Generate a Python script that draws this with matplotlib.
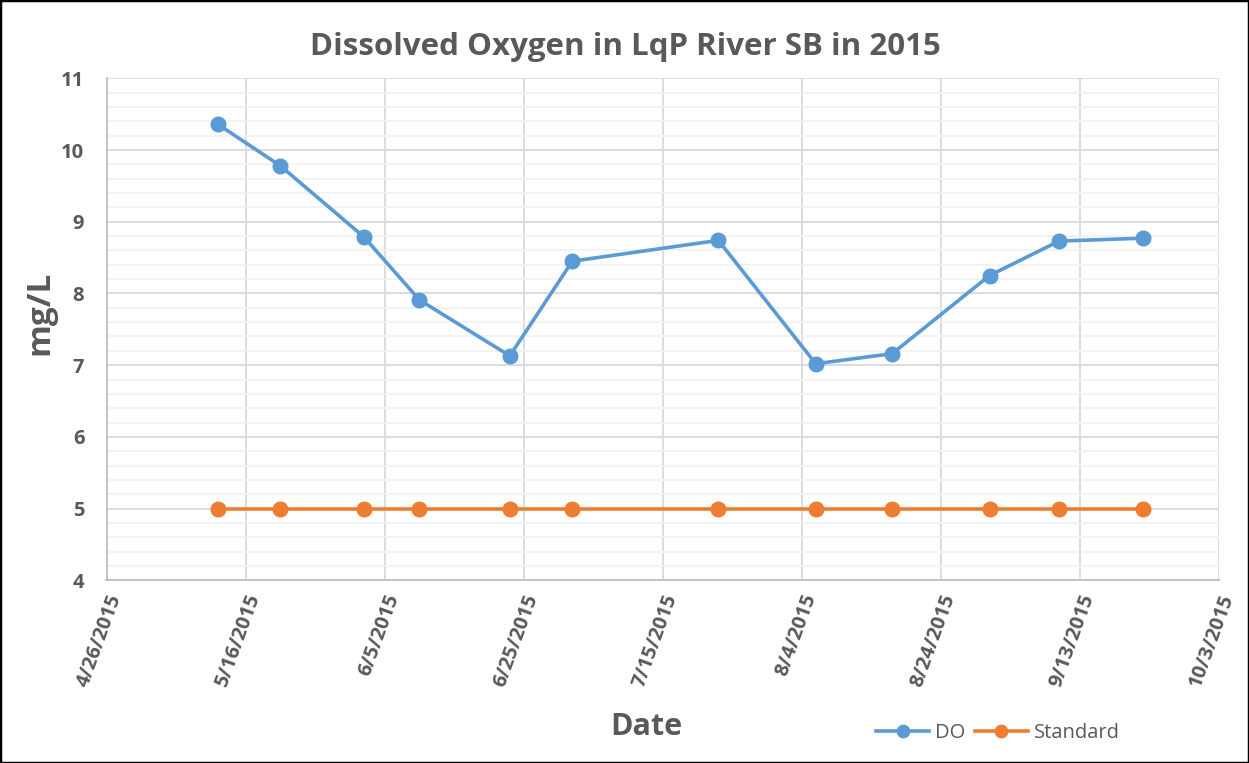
import matplotlib
matplotlib.use("Agg")
import matplotlib.pyplot as plt
import matplotlib.dates as mdates
from matplotlib.ticker import MultipleLocator
from matplotlib.patches import Rectangle
import datetime as dt

plt.rcParams['font.family'] = ['Open Sans', 'DejaVu Sans']

dates = ["2015-05-12", "2015-05-21", "2015-06-02", "2015-06-10", "2015-06-23", "2015-07-02",
         "2015-07-23", "2015-08-06", "2015-08-17", "2015-08-31", "2015-09-10", "2015-09-22"]
do_values = [10.36, 9.78, 8.79, 7.91, 7.13, 8.45, 8.74, 7.02, 7.16, 8.25, 8.73, 8.77]
standard_values = [5, 5, 5, 5, 5, 5, 5, 5, 5, 5, 5, 5]
x_start, x_end = "2015-04-26", "2015-10-03"
title = "Dissolved Oxygen in LqP River SB in 2015"

x = [dt.datetime.strptime(d, "%Y-%m-%d") for d in dates]
xs = dt.datetime.strptime(x_start, "%Y-%m-%d")
xe = dt.datetime.strptime(x_end, "%Y-%m-%d")

W, H = 1249, 763
fig = plt.figure(figsize=(W/100, H/100), dpi=100)
ax = fig.add_axes([106.5/W, 1-580.3/H, (1219-106.5)/W, (580.3-78.3)/H])

gray = "#595959"
ax.plot(x, do_values, color="#5B9BD5", lw=2.6, marker="o", ms=10.5, label="DO", zorder=3)
ax.plot(x, standard_values, color="#ED7D31", lw=2.6, marker="o", ms=10.5, label="Standard", zorder=3)

ax.set_xlim(mdates.date2num(xs), mdates.date2num(xe))
ax.set_ylim(4, 11)
ticks = [mdates.date2num(xs) + 20*i for i in range(9)]
ax.set_xticks(ticks)
ax.xaxis.set_major_formatter(mdates.DateFormatter("%-m/%-d/%Y"))
ax.yaxis.set_major_locator(MultipleLocator(1))
ax.yaxis.set_minor_locator(MultipleLocator(0.2))
ax.grid(True, which="major", color="#D9D9D9", lw=1.3, zorder=0)
ax.grid(True, which="minor", axis="y", color="#F2F2F2", lw=1.3, zorder=0)
ax.set_axisbelow(True)
for s in ["top", "right"]:
    ax.spines[s].set_visible(False)
for s in ["left", "bottom"]:
    ax.spines[s].set_color("#BFBFBF")
    ax.spines[s].set_linewidth(1.3)
ax.tick_params(which="both", length=0)
ax.tick_params(axis="y", labelsize=14.5, labelcolor=gray, pad=16)
ax.tick_params(axis="x", labelsize=14.5, labelcolor=gray, pad=8)
for lab in ax.get_yticklabels():
    lab.set_fontweight("bold")
for lab in ax.get_xticklabels():
    lab.set_fontweight("bold")
    lab.set_rotation(70)
    lab.set_ha("right")
    lab.set_va("top")
    lab.set_rotation_mode("anchor")

fig.text(625/W, 1-47/H, title, ha="center", va="center", fontsize=22.5, fontweight="bold", color=gray)
fig.text(40/W, 1-313/H, "mg/L", ha="center", va="center", rotation=90, fontsize=24, fontweight="bold", color=gray)
fig.text(646/W, 1-727/H, "Date", ha="center", va="center", fontsize=22, fontweight="bold", color=gray)

leg = fig.legend(loc="center", bbox_to_anchor=(998/W, 1-733/H), ncol=2, frameon=False,
                 fontsize=14.5, handlelength=2.6, columnspacing=0.5, handletextpad=0.3, markerscale=0.85)
for t in leg.get_texts():
    t.set_color(gray)

fig.patches.append(Rectangle((0, 0), 1, 1, transform=fig.transFigure, fill=False,
                             edgecolor="black", lw=2.5, zorder=10))

fig.savefig("out.png", dpi=100)
